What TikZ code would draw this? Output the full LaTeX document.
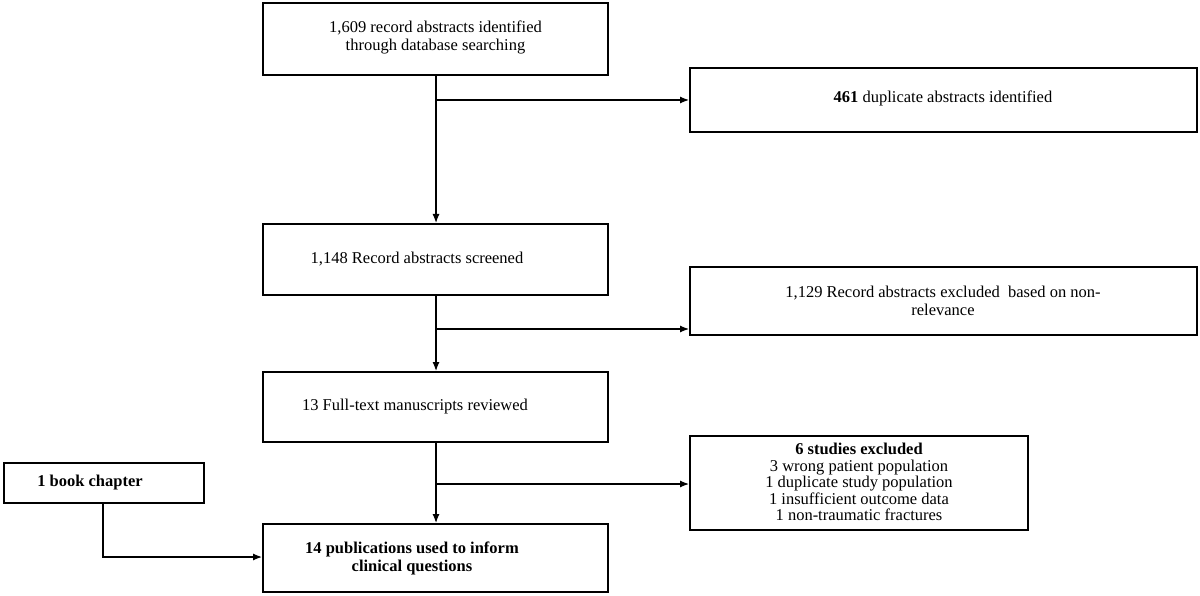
\documentclass[tikz,border=0pt]{standalone}
\usepackage{fontspec}
\setmainfont{Liberation Serif}
\usetikzlibrary{arrows.meta}
\begin{document}
\begin{tikzpicture}[x=1pt,y=-1pt,
 box/.style={draw,line width=1.2pt,inner sep=0pt},
 txt/.style={font=\fontsize{16.5}{18}\selectfont,align=center},
 arr/.style={line width=1.2pt,-{Latex[length=9pt,width=7pt]}}]
\useasboundingbox (0,0) rectangle (1200,596);
\draw[box] (263,3) rectangle (608,75);
\node[txt] (a) at (435.5,37) {1,609 record abstracts identified\\through database searching};
\draw[box] (690,68) rectangle (1197,132);
\node[txt] (b) at (943,98) {\textbf{461} duplicate abstracts identified};
\draw[box] (263,224) rectangle (608,295);
\node[txt] (c) at (417,259) {1,148 Record abstracts screened};
\draw[box] (690,267) rectangle (1197,335);
\node[txt] (d) at (943,301) {1,129 Record abstracts excluded\ \ based on non-\\relevance};
\draw[box] (263,372) rectangle (608,442);
\node[txt] (e) at (415,407) {13 Full-text manuscripts reviewed};
\draw[box] (690,436) rectangle (1028,530);
\node[txt,font=\fontsize{16.5}{16.5}\selectfont] (f) at (859,482) {\textbf{6 studies excluded}\\3 wrong patient population\\1 duplicate study population\\1 insufficient outcome data\\1 non-traumatic fractures};
\draw[box] (4,463) rectangle (204,503);
\node[txt] (g) at (90,483) {\textbf{1 book chapter}};
\draw[box] (263,524) rectangle (608,592);
\node[txt] (h) at (412,558) {\textbf{14 publications used to inform}\\\textbf{clinical questions}};
\coordinate (a1) at (436,75);
\draw[arr] (a1) -- (436,223);
\draw[arr] (436,100) -- (689,100);
\draw[arr] (436,295) -- (436,371);
\draw[arr] (436,329) -- (689,329);
\draw[arr] (436,442) -- (436,523);
\draw[arr] (436,484) -- (689,484);
\draw[arr] (103,503) -- (103,557) -- (262,557);
\end{tikzpicture}
\end{document}
